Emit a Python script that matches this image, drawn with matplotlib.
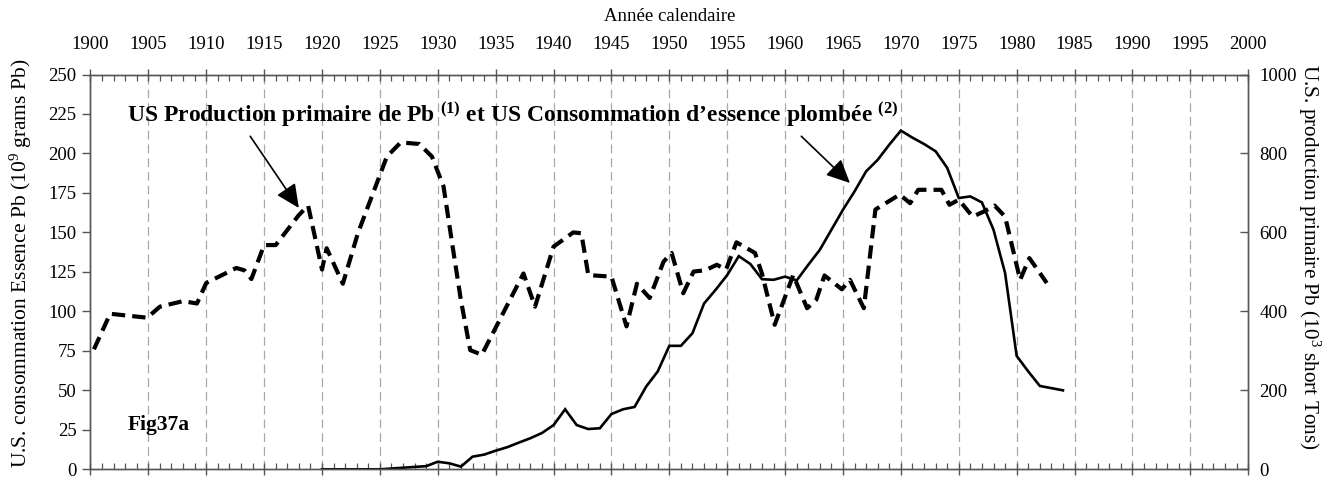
import matplotlib

matplotlib.use("Agg")
import matplotlib.pyplot as plt

plt.rcParams["font.family"] = ["Liberation Serif", "DejaVu Serif"]
plt.rcParams["mathtext.fontset"] = "custom"
plt.rcParams["mathtext.rm"] = "Liberation Serif"
plt.rcParams["mathtext.it"] = "Liberation Serif:italic"
plt.rcParams["mathtext.bf"] = "Liberation Serif:bold"

# US primary lead production (10^3 short tons), right axis
prod_years = [1900.3, 1901.7, 1904.9, 1906, 1908, 1909.2, 1910, 1912.6, 1913.3, 1913.9,
              1915, 1916, 1918, 1918.8, 1920, 1920.4, 1921.8, 1923.1, 1925.6, 1926.8,
              1928.4, 1929.5, 1930.5, 1931.2, 1932, 1932.8, 1933.8, 1937.4, 1938.4, 1940,
              1941.7, 1942.4, 1943, 1945, 1946.3, 1947.2, 1948.3, 1949.5, 1950.2, 1951.2,
              1952.1, 1953.1, 1954.1, 1954.9, 1955.8, 1957.4, 1958, 1959.1, 1960.7, 1961.9,
              1962.7, 1963.4, 1964.9, 1965.6, 1966.8, 1967.8, 1969.9, 1970.8, 1971.5, 1973.5,
              1974.2, 1975, 1976.2, 1977.1, 1978.1, 1979, 1980.3, 1981.1, 1982.6]
prod_values = [304, 394, 384, 412, 426, 420, 472, 510, 504, 482,
               568, 568, 644, 668, 506, 560, 470, 598, 792, 828,
               824, 792, 716, 580, 428, 302, 290, 496, 412, 564,
               600, 598, 492, 488, 362, 470, 434, 526, 548, 446,
               501, 504, 518, 506, 575, 548, 496, 366, 492, 408,
               430, 491, 456, 480, 408, 658, 696, 674, 708, 708,
               670, 683, 640, 652, 668, 640, 480, 535, 472]

# US lead consumed in gasoline (10^9 grams Pb), left axis
gas_years = list(range(1920, 1985))
gas_values = [0, 0, 0, 0, 0, 0, 0.5, 1, 1.5, 2,
              4.8, 3.8, 1.7, 8, 9.3, 11.8, 14, 16.9, 19.7, 23,
              28, 38, 28, 25.5, 26, 35, 38, 39.5, 52.4, 62,
              78.2, 78.2, 86.2, 105, 113.7, 123, 135, 130, 120.4, 120,
              122, 119.6, 129.5, 139, 151.7, 164.4, 176, 188.7, 196, 205.6,
              214.5, 210, 206, 201.4, 190.9, 171.8, 172.8, 169, 151.7, 124.3,
              71.8, 62, 52.8, 51.4, 50]

year_ticks = list(range(1900, 2001, 5))
left_ticks = list(range(0, 251, 25))
right_ticks = list(range(0, 1001, 200))

fig = plt.figure(figsize=(13.4, 4.88), dpi=100)
ax = fig.add_axes([0.0675, 0.0383, 0.864, 0.809])
ax2 = ax.twinx()

spine_color = "#555555"
grid_color = "#a8a8a8"

ax.plot(gas_years, gas_values, color="black", lw=1.9, solid_joinstyle="miter")
ax2.plot(prod_years, prod_values, color="black", lw=3.0, dashes=(3.2, 1.7))

ax.set_xlim(1900, 2000)
ax.set_ylim(0, 250)
ax2.set_ylim(0, 1000)

# vertical dashed grid every 5 years
for yr in year_ticks[1:-1]:
    ax.axvline(yr, color=grid_color, lw=0.9, dashes=(7, 4), zorder=0)

ax.set_xticks(year_ticks)
ax.set_xticks(range(1900, 2001), minor=True)
ax.set_yticks(left_ticks)
ax2.set_yticks(right_ticks)

ax.tick_params(axis="x", which="major", top=True, bottom=True, labeltop=True, labelbottom=False,
               direction="inout", length=9, width=1, color=spine_color, labelsize=13.5, pad=11)
ax.tick_params(axis="x", which="minor", top=True, bottom=True, direction="in", length=4,
               width=0.9, color=spine_color)
ax.tick_params(axis="y", which="major", left=True, right=False, direction="out", length=6,
               width=1, color=spine_color, labelsize=13.5, pad=4)
ax2.tick_params(axis="y", which="major", direction="in", length=6, width=1, color=spine_color,
                labelsize=13.5, pad=8)

for a in (ax, ax2):
    for sp in a.spines.values():
        sp.set_color(spine_color)
        sp.set_linewidth(1.0)

ax.xaxis.set_label_position("top")
ax.set_xlabel("Année calendaire", fontsize=13.5, labelpad=11)
ax.set_ylabel(r"U.S. consommation Essence Pb (10$^9$ grams Pb)", fontsize=15.5,
              va="center", ha="center")
ax.yaxis.set_label_coords(-0.060, 0.5226)
ax2.set_ylabel(r"U.S. production primaire Pb (10$^3$ short Tons)", fontsize=15.3,
               rotation=270, va="center", ha="center")
ax2.yaxis.set_label_coords(1.0523, 0.538)

ax.text(1903.2, 220.2, r"US Production primaire de Pb $^{\mathbf{(1)}}$ et US Consommation d’essence plombée $^{\mathbf{(2)}}$",
        fontsize=17, fontweight="bold", va="baseline", ha="left")
ax.text(1903.2, 28, "Fig37a", fontsize=15.5, fontweight="bold", va="center", ha="left")

arrow_style = dict(arrowstyle="-|>,head_length=0.72,head_width=0.34", mutation_scale=20,
                   color="black", lw=1.2, shrinkA=0, shrinkB=0)
ax.annotate("", xy=(1918.0, 165.5), xytext=(1913.8, 210.9), arrowprops=arrow_style)
ax.annotate("", xy=(1965.6, 181.3), xytext=(1961.4, 210.9), arrowprops=arrow_style)

fig.savefig("out.png", dpi=100)
